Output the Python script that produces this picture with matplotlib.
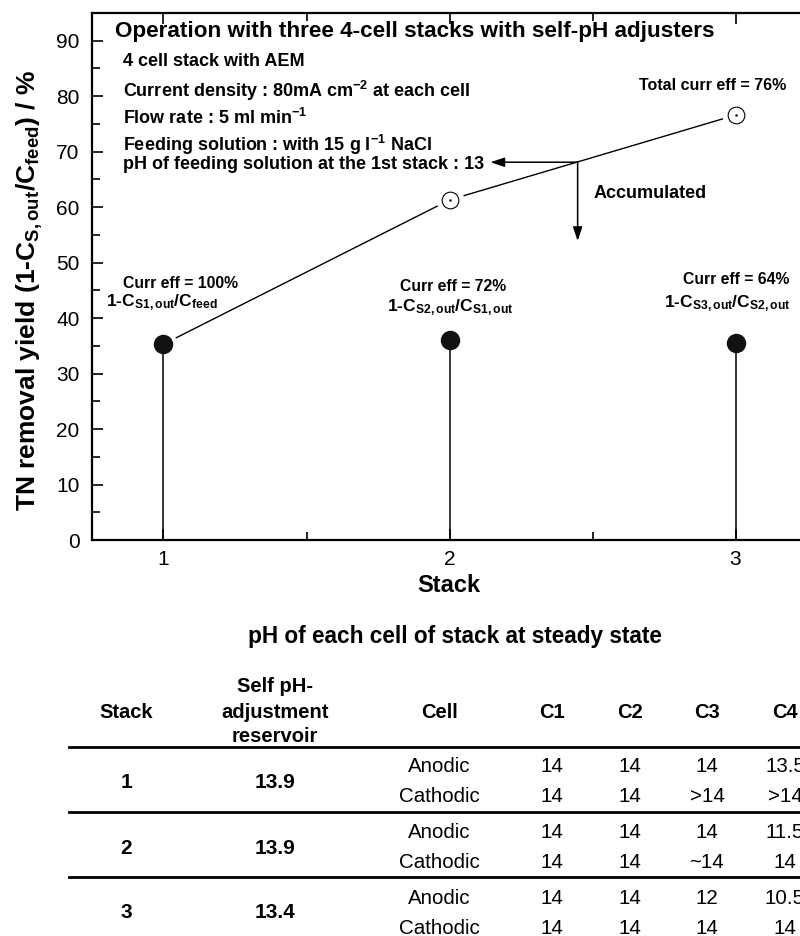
import matplotlib
matplotlib.use("Agg")
import matplotlib.pyplot as plt
from matplotlib.lines import Line2D
from matplotlib.ticker import MultipleLocator

plt.rcParams["font.family"] = ["Liberation Sans", "DejaVu Sans"]
plt.rcParams["mathtext.fontset"] = "custom"
plt.rcParams["mathtext.rm"] = "Liberation Sans:bold"
plt.rcParams["mathtext.it"] = "Liberation Sans:bold"
plt.rcParams["mathtext.bf"] = "Liberation Sans:bold"

# --- chart data ---
stacks = [1, 2, 3]
stack_yield = [35.3, 36.0, 35.6]          # per-stack removal, %
acc_yield = [35.3, 61.3, 76.6]            # accumulated removal, %
curr_eff = ["Curr eff = 100%", "Curr eff = 72%", "Curr eff = 64%"]
yield_labels = [
    "1-C$_{S1,out}$/C$_{feed}$",
    "1-C$_{S2,out}$/C$_{S1,out}$",
    "1-C$_{S3,out}$/C$_{S2,out}$",
]
total_eff = "Total curr eff = 76%"

info_lines = [
    "4 cell stack with AEM",
    "Current density : 80mA cm$^{-2}$ at each cell",
    "Flow rate : 5 ml min$^{-1}$",
    "Feeding solution : with 15 g l$^{-1}$ NaCl",
    "pH of feeding solution at the 1st stack : 13",
]

# --- table data ---
tab_header = ["Stack", "Self pH-\nadjustment\nreservoir", "Cell", "C1", "C2", "C3", "C4"]
tab_stack = ["1", "2", "3"]
tab_reservoir = ["13.9", "13.9", "13.4"]
tab_cell = ["Anodic", "Cathodic"]
anodic_ph = [["14", "14", "14", "13.5"],
             ["14", "14", "14", "11.5"],
             ["14", "14", "12", "10.5"]]
cathodic_ph = [["14", "14", ">14", ">14"],
               ["14", "14", "~14", "14"],
               ["14", "14", "14", "14"]]

fig = plt.figure(figsize=(8, 9.36), dpi=100)
ax = fig.add_axes([92 / 800, 1 - 540 / 936, 715 / 800, 527 / 936])

# stems + per-stack points
ax.vlines(stacks, 0, stack_yield, color="black", lw=1.1, zorder=3.5)
# accumulated line, with white halos so it stops short of the markers
ax.plot(stacks, acc_yield, color="black", lw=1.0, zorder=2)
ax.plot(stacks, acc_yield, "o", ms=19, mfc="white", mec="white", zorder=3)
ax.plot(stacks, stack_yield, "o", ms=13, color="#111111", zorder=4)
ax.plot(stacks[1:], acc_yield[1:], "o", ms=12, mfc="white", mec="black", mew=0.8, zorder=4)
ax.plot(stacks[1:], acc_yield[1:], ".", ms=1.5, color="black", zorder=5)

ax.set_xlim(0.75, 3.25)
ax.set_ylim(0, 95)
ax.set_xticks(stacks)
ax.xaxis.set_minor_locator(MultipleLocator(0.5))
ax.set_yticks(range(0, 91, 10))
ax.yaxis.set_minor_locator(MultipleLocator(5))
ax.tick_params(which="both", direction="in", top=True, right=False, labelsize=15, width=1.2)
ax.tick_params(which="major", length=8)
ax.tick_params(which="minor", length=6)
ax.tick_params(axis="x", pad=7)
ax.tick_params(axis="y", pad=9)
for s in ax.spines.values():
    s.set_linewidth(1.6)

# annotations
ax.text(0.832, 91.6, "Operation with three 4-cell stacks with self-pH adjusters",
        fontsize=16.2, fontweight="bold", va="center", ha="left")
info_y = [86.3, 81.0, 76.0, 71.2, 67.6]
for txt, yy in zip(info_lines, info_y):
    ax.text(0.857, yy, txt, fontsize=13, fontweight="bold", va="center", ha="left")

ax.text(3.178, 81.9, total_eff, fontsize=11.5, fontweight="bold", ha="right", va="center")
ax.text(2.503, 62.5, "Accumulated", fontsize=13, fontweight="bold", ha="left", va="center")

arrow_from = (2.448, 68.1)
ax.annotate("", xy=(2.143, arrow_from[1]), xytext=arrow_from,
            arrowprops=dict(arrowstyle="-|>,head_length=0.6,head_width=0.2", color="black",
                            lw=1.1, mutation_scale=14, shrinkA=0, shrinkB=0))
ax.annotate("", xy=(arrow_from[0], 53.9), xytext=arrow_from,
            arrowprops=dict(arrowstyle="-|>,head_length=0.6,head_width=0.2", color="black",
                            lw=1.1, mutation_scale=14, shrinkA=0, shrinkB=0))

eff_pos = [(1.06, 45.5), (2.014, 44.8), (3.003, 46.1)]
lab_pos = [(0.993, 42.1), (2.003, 41.2), (2.97, 41.9)]
for t, (x, y) in zip(curr_eff, eff_pos):
    ax.text(x, y, t, fontsize=11.3, fontweight="bold", ha="center", va="baseline")
for t, (x, y) in zip(yield_labels, lab_pos):
    ax.text(x, y, t, fontsize=12.5, fontweight="bold", ha="center", va="baseline")

fig.text(449 / 800, 1 - 585 / 936, "Stack", fontsize=17, fontweight="bold",
         ha="center", va="center")
fig.text(30 / 800, 1 - 291 / 936, "TN removal yield (1-C$_{S,out}$/C$_{feed}$) / %",
         fontsize=19, fontweight="bold", rotation=90, ha="center", va="center")

# --- table drawn in pixel coordinates on an overlay ---
tab = fig.add_axes([0, 0, 1, 1])
tab.set_xlim(0, 800)
tab.set_ylim(936, 0)
tab.axis("off")

tab.text(455, 637, "pH of each cell of stack at steady state", fontsize=16.3,
         fontweight="bold", ha="center", va="center")

col_x = [126, 275, 439, 552, 630, 707, 785]
for h, x in zip(tab_header, col_x):
    tab.text(x, 712, h, fontsize=14.5, fontweight="bold", ha="center", va="center",
             linespacing=1.4)

rule_y = [747, 812, 877]
for ry in rule_y:
    tab.add_line(Line2D([69, 800], [ry, ry], color="black", lw=2))

row_top = [767, 833, 898]
row_gap = 30
for i in range(len(tab_stack)):
    y0 = row_top[i]
    mid = y0 + row_gap / 2
    tab.text(col_x[0], mid, tab_stack[i], fontsize=15, fontweight="bold", ha="center", va="center")
    tab.text(col_x[1], mid, tab_reservoir[i], fontsize=15, fontweight="bold", ha="center", va="center")
    for j, (cell, vals) in enumerate(zip(tab_cell, [anodic_ph[i], cathodic_ph[i]])):
        yy = y0 + j * row_gap
        tab.text(col_x[2], yy, cell, fontsize=14.8, ha="center", va="center")
        for v, x in zip(vals, col_x[3:]):
            tab.text(x, yy, v, fontsize=14.8, ha="center", va="center")

fig.savefig("out.png", dpi=100)
